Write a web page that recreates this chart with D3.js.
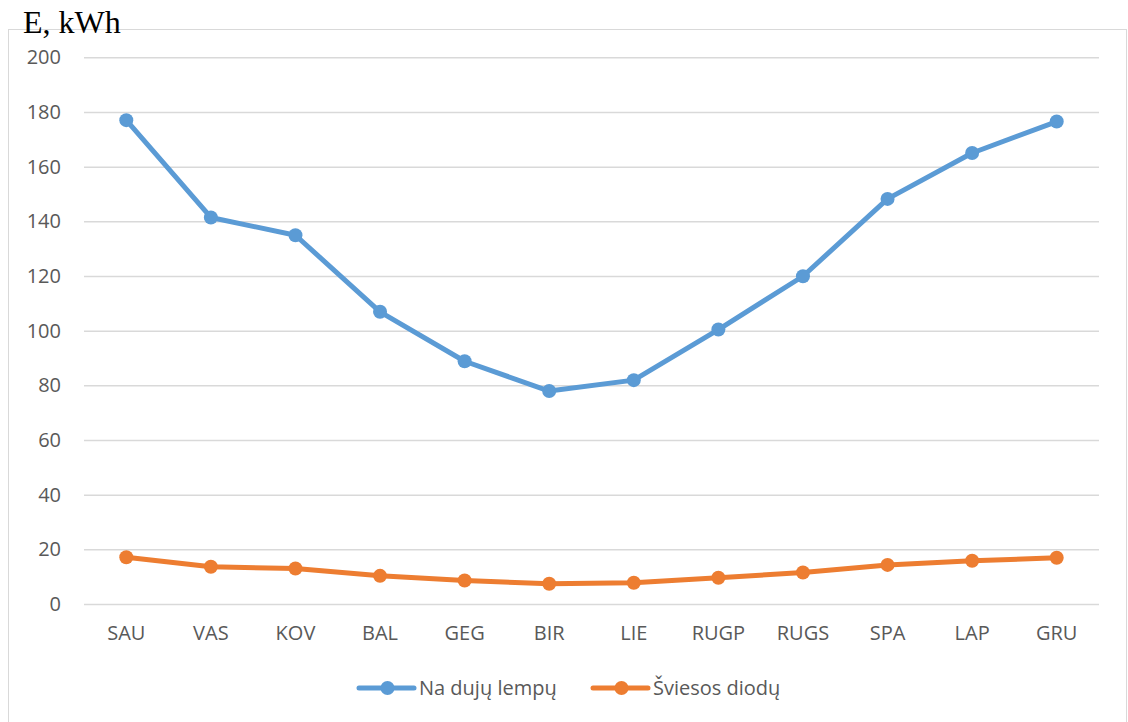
<!DOCTYPE html>
<html>
<head>
<meta charset="utf-8">
<script src="https://cdn.jsdelivr.net/npm/d3@7"></script>
<style>
  html, body { margin: 0; padding: 0; background: #ffffff; }
  svg { display: block; }
</style>
</head>
<body>
<svg id="chart" width="1128" height="722"></svg>
<script>
// Monthly energy use, kWh
const months = ["SAU", "VAS", "KOV", "BAL", "GEG", "BIR", "LIE", "RUGP", "RUGS", "SPA", "LAP", "GRU"];
const gasLamps = [177, 141.4, 134.9, 106.9, 88.8, 77.9, 81.9, 100.4, 119.9, 148.2, 165, 176.5];
const leds = [17.1, 13.6, 13.0, 10.3, 8.6, 7.4, 7.8, 9.6, 11.5, 14.3, 15.8, 16.9];
const yTicks = [0, 20, 40, 60, 80, 100, 120, 140, 160, 180, 200];
const seriesNames = ["Na dujų lempų", "Šviesos diodų"];
const seriesColors = ["#5B9BD5", "#ED7D31"];

const svg = d3.select("#chart");
const font = "'Open Sans', sans-serif";
const fontSize = "20px";
const plot = { left: 84, right: 1099, top: 57.3, bottom: 604 };

// chart frame
svg.append("rect")
  .attr("x", 8.5).attr("y", 29.5)
  .attr("width", 1118).attr("height", 700)
  .attr("fill", "#ffffff").attr("stroke", "#D9D9D9").attr("stroke-width", 1);

const x = d3.scaleBand().domain(months).range([plot.left, plot.right]).padding(0);
const y = d3.scaleLinear().domain([0, 200]).range([plot.bottom, plot.top]);

// horizontal gridlines
const yAxis = d3.axisLeft(y).tickValues(yTicks).tickSize(-(plot.right - plot.left)).tickPadding(23);
const gy = svg.append("g").attr("transform", `translate(${plot.left},0)`).call(yAxis);
gy.select(".domain").remove();
gy.selectAll(".tick line").attr("stroke", "#D9D9D9").attr("stroke-width", 1.5);
gy.selectAll(".tick text")
  .attr("fill", "#595959").style("font-family", font).style("font-size", fontSize);

// category labels
const xAxis = d3.axisBottom(x).tickSize(0).tickPadding(22);
const gx = svg.append("g").attr("transform", `translate(0,${plot.bottom})`).call(xAxis);
gx.select(".domain").remove();
gx.selectAll(".tick text")
  .attr("fill", "#595959").style("font-family", font).style("font-size", fontSize);

const cx = d => x(d) + x.bandwidth() / 2;

[gasLamps, leds].forEach((vals, i) => {
  const pts = months.map((m, j) => [cx(m), y(vals[j])]);
  svg.append("path")
    .attr("d", d3.line()(pts))
    .attr("fill", "none")
    .attr("stroke", seriesColors[i])
    .attr("stroke-width", 5)
    .attr("stroke-linejoin", "round")
    .attr("stroke-linecap", "round");
  svg.append("g").selectAll("circle")
    .data(pts).join("circle")
    .attr("cx", d => d[0]).attr("cy", d => d[1])
    .attr("r", 7).attr("fill", seriesColors[i]);
});

// legend
const legendItems = [{ x0: 359 }, { x0: 593 }];
legendItems.forEach((it, i) => {
  const g = svg.append("g").attr("transform", `translate(${it.x0},688)`);
  g.append("line").attr("x1", 0).attr("x2", 55).attr("y1", 0).attr("y2", 0)
    .attr("stroke", seriesColors[i]).attr("stroke-width", 5).attr("stroke-linecap", "round");
  g.append("circle").attr("cx", 28.5).attr("cy", 0).attr("r", 7).attr("fill", seriesColors[i]);
  g.append("text").attr("x", 60).attr("y", 0).attr("dy", "0.35em")
    .attr("fill", "#595959").style("font-family", font).style("font-size", fontSize)
    .text(seriesNames[i]);
});

// axis title
svg.append("text")
  .attr("x", 23).attr("y", 33)
  .attr("fill", "#000000")
  .style("font-family", "'Liberation Serif', 'Times New Roman', serif")
  .style("font-size", "32px")
  .text("E, kWh");
</script>
</body>
</html>
